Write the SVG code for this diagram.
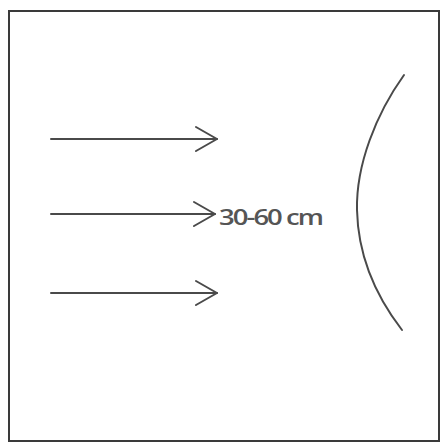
<svg xmlns="http://www.w3.org/2000/svg" width="445" height="443" viewBox="0 0 445 443">
<style>
.ln{fill:none;stroke:#4a4a4a;stroke-width:2;stroke-linecap:round;stroke-linejoin:round}
.lbl{font-family:"Open Sans","Liberation Sans",sans-serif;font-size:21px;font-weight:600;fill:#555;letter-spacing:-1.5px}
</style>
<defs>
<marker id="ah" viewBox="0 0 24 28" refX="22" refY="14" markerWidth="24" markerHeight="28" markerUnits="userSpaceOnUse" orient="auto">
<path d="M1,2 L22,14 L1,26" fill="none" stroke="#4a4a4a" stroke-width="2" stroke-linecap="round" stroke-linejoin="round"/>
</marker>
</defs>
<rect width="445" height="443" fill="#fff"/>
<rect id="frame" x="9" y="11" width="430" height="430" fill="none" stroke="#3a3a3a" stroke-width="2"/>
<g id="connectors">
<path class="ln" d="M51,139 H217" marker-end="url(#ah)"/>
<path class="ln" d="M51,214 H215" marker-end="url(#ah)"/>
<path class="ln" d="M51,293 H217" marker-end="url(#ah)"/>
</g>
<g id="surface">
<path class="ln" d="M404,75 C376,114 356,165 357,210 C358,255 375,295 402,330"/>
</g>
<g id="label">
<text class="lbl" x="219" y="225" textLength="103" lengthAdjust="spacingAndGlyphs">30-60 cm</text>
</g>
</svg>
